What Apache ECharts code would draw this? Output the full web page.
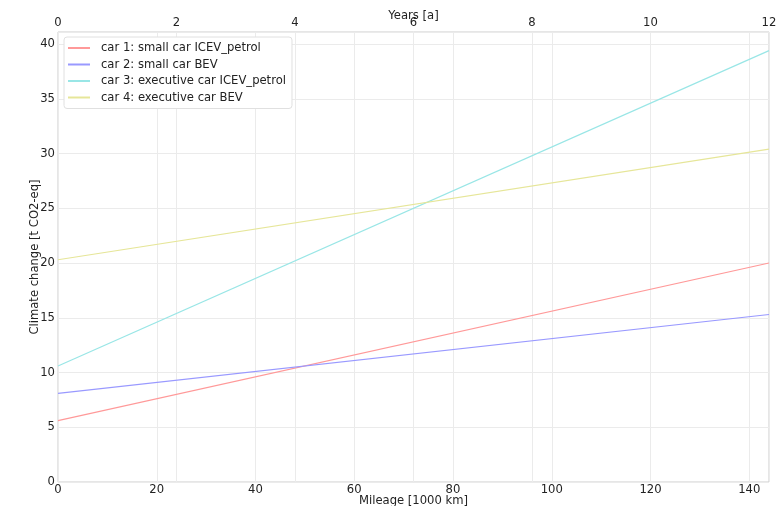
<!DOCTYPE html>
<html>
<head>
<meta charset="utf-8">
<script src="https://cdn.jsdelivr.net/npm/echarts@6/dist/echarts.min.js"></script>
<style>
    html, body { margin: 0; padding: 0; background: #fff; }
    #main { width: 777px; height: 506px; }
</style>
</head>
<body>
<div id="main"></div>
<script>
    // mileage in 1000 km, one point at each end (lines are straight)
    var mileage = [0, 144];
    var car1 = [5.6, 20.0];
    var car2 = [8.1, 15.3];
    var car3 = [10.6, 39.4];
    var car4 = [20.3, 30.4];
    var names = [
      'car 1: small car ICEV_petrol',
      'car 2: small car BEV',
      'car 3: executive car ICEV_petrol',
      'car 4: executive car BEV'
    ];
    var colors = ['#ff9999', '#9999ff', '#99e6e6', '#e6e699'];

    var pairs = function (ys) {
      return mileage.map(function (x, i) { return [x, ys[i]]; });
    };

    var myChart = echarts.init(document.getElementById('main'));
    var font = 'DejaVu Sans';
    var fs = 11.6;
    var grayLine = { lineStyle: { color: '#ebebeb', width: 1 } };

    var option = {
      animation: false,
      textStyle: { fontFamily: font },
      grid: {
        left: 58, right: 8, top: 32, bottom: 24,
        outerBoundsMode: 'none', containLabel: false,
        show: true, borderColor: '#cccccc', borderWidth: 1
      },
      legend: {
        orient: 'vertical',
        left: 64, top: 37,
        padding: [5, 6, 5, 4],
        itemGap: 4.5,
        itemWidth: 22, itemHeight: 2,
        backgroundColor: '#fff',
        borderColor: '#e0e0e0', borderWidth: 1, borderRadius: 3,
        icon: 'rect',
        textStyle: { fontFamily: font, fontSize: fs, color: '#222', padding: [0, 0, 0, 6] },
        data: names
      },
      xAxis: [
        {
          type: 'value', min: 0, max: 144, interval: 20,
          name: 'Mileage [1000 km]', nameLocation: 'middle', nameGap: 13,
          nameMoveOverlap: false,
          nameTextStyle: { fontSize: fs, color: '#222', fontFamily: font },
          axisLine: { show: false }, axisTick: { show: false },
          axisLabel: { fontSize: fs, color: '#222', margin: 2, showMaxLabel: false },
          splitLine: grayLine
        },
        {
          type: 'value', position: 'top', min: 0, max: 12, interval: 2,
          name: 'Years [a]', nameLocation: 'middle', nameGap: 10,
          nameMoveOverlap: false,
          nameTextStyle: { fontSize: fs, color: '#222', fontFamily: font },
          axisLine: { show: false }, axisTick: { show: false },
          axisLabel: { fontSize: fs, color: '#222', margin: 3 },
          splitLine: grayLine
        }
      ],
      yAxis: {
        type: 'value', min: 0, max: 41.1, interval: 5,
        name: 'Climate change [t CO2-eq]', nameLocation: 'middle', nameGap: 17,
        nameMoveOverlap: false,
        nameTextStyle: { fontSize: fs, color: '#222', fontFamily: font },
        axisLine: { show: false }, axisTick: { show: false },
        axisLabel: { fontSize: fs, color: '#222', margin: 3, showMaxLabel: false },
        splitLine: grayLine
      },
      series: [car1, car2, car3, car4].map(function (ys, i) {
        return {
          name: names[i], type: 'line', xAxisIndex: 0,
          data: pairs(ys), showSymbol: false, symbol: 'none',
          lineStyle: { color: colors[i], width: 1.2 },
          itemStyle: { color: colors[i] }
        };
      })
    };

    myChart.setOption(option);
</script>
</body>
</html>
